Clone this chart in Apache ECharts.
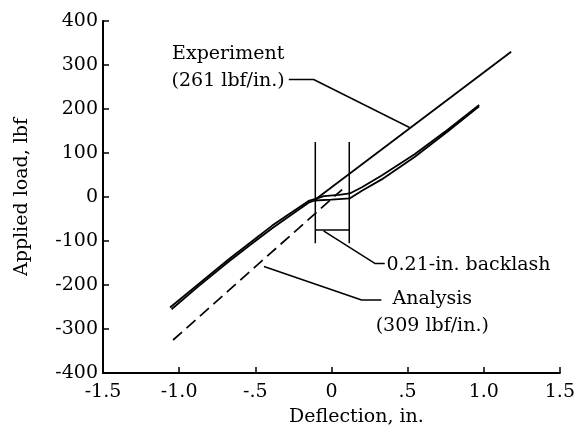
<!DOCTYPE html>
<html>
<head>
<meta charset="utf-8">
<script src="https://cdn.jsdelivr.net/npm/echarts@6/dist/echarts.min.js"></script>
<style>
  html, body { margin: 0; padding: 0; background: #fff; }
  #chart { width: 578px; height: 437px; }
</style>
</head>
<body>
<div id="chart"></div>
<script>
// tick labels
var xTickLabels = { '-1.5': '-1.5', '-1': '-1.0', '-0.5': '-.5', '0': '0', '0.5': '.5', '1': '1.0', '1.5': '1.5' };

// experiment hysteresis loop (two branches), deflection in., load lbf
var loopUpper = [[-1.06, -251], [-0.87, -197], [-0.672, -141], [-0.53, -103], [-0.389, -65], [-0.27, -37],
    [-0.15, -9], [-0.11, -5], [-0.05, 2], [0.05, 5], [0.12, 8], [0.2, 22], [0.33, 49], [0.546, 97],
    [0.763, 153], [0.97, 209]];
var loopLower = [[-1.05, -255], [-0.87, -202], [-0.672, -146], [-0.53, -108], [-0.389, -71], [-0.27, -42],
    [-0.15, -13], [-0.11, -8], [0.0, -6], [0.122, -3], [0.2, 14], [0.33, 40], [0.546, 91],
    [0.763, 149], [0.97, 206]];
// fitted experiment stiffness (261 lbf/in.)
var expLine = [[-0.11, -7], [1.18, 330]];
// analysis stiffness (309 lbf/in.)
var analysisLine = [[-1.04, -325], [0.07, 17]];
// backlash bracket
var backlashLeft = [[-0.106, -105], [-0.106, 125]];
var backlashRight = [[0.117, -105], [0.117, 125]];
var backlashBar = [[-0.106, -75], [0.117, -75]];
// leader lines
var expLeader = [[-0.28, 267], [-0.117, 267], [0.513, 158]];
var backlashLeader = [[-0.052, -77], [0.285, -151], [0.35, -151]];
var analysisLeader = [[-0.443, -158], [0.198, -234], [0.328, -234]];
// annotation anchors
var expText = [-0.678, 294];
var backlashText = [0.361, -154];
var analysisText = [0.662, -263];

var font = 'DejaVu Serif';
var myChart = echarts.init(document.getElementById('chart'));

function line(data, w, dash) {
    return {
        type: 'line',
        data: data,
        symbol: 'none',
        silent: true,
        animation: false,
        lineStyle: { color: '#000', width: w, type: dash || 'solid' }
    };
}

var option = {
    backgroundColor: '#fff',
    animation: false,
    grid: { left: 103, right: 15, top: 21, bottom: 64, containLabel: false },
    xAxis: {
        type: 'value',
        min: -1.5,
        max: 1.5,
        interval: 0.5,
        name: 'Deflection, in.',
        nameLocation: 'middle',
        nameGap: 44,
        nameTextStyle: { fontFamily: font, fontSize: 19, color: '#000', verticalAlign: 'middle', padding: [0, 0, 0, 50] },
        axisLine: { show: true, onZero: false, lineStyle: { color: '#000', width: 2 } },
        axisTick: { show: true, inside: true, length: 6, lineStyle: { color: '#000', width: 1.5 } },
        axisLabel: {
            margin: 10,
            fontFamily: font,
            fontSize: 19,
            color: '#000',
            formatter: function (v) { return xTickLabels[String(v)]; }
        },
        splitLine: { show: false }
    },
    yAxis: {
        type: 'value',
        min: -400,
        max: 400,
        interval: 100,
        name: 'Applied load, lbf',
        nameLocation: 'middle',
        nameGap: 81,
        nameRotate: 90,
        nameTextStyle: { fontFamily: font, fontSize: 19, color: '#000', verticalAlign: 'middle' },
        axisLine: { show: true, onZero: false, lineStyle: { color: '#000', width: 2 } },
        axisTick: { show: true, inside: true, length: 6, lineStyle: { color: '#000', width: 1.5 } },
        axisLabel: { margin: 5, fontFamily: font, fontSize: 19, color: '#000' },
        splitLine: { show: false }
    },
    series: [
        line(loopUpper, 1.8),
        line(loopLower, 1.8),
        line(expLine, 1.8),
        line(analysisLine, 1.7, [12, 6]),
        line(backlashLeft, 1.5),
        line(backlashRight, 1.5),
        line(backlashBar, 1.5),
        line(expLeader, 1.5),
        line(backlashLeader, 1.5),
        line(analysisLeader, 1.5)
    ]
};
myChart.setOption(option);

// place annotation texts at data positions
function textAt(pt, str, align) {
    var p = myChart.convertToPixel({ gridIndex: 0 }, pt);
    return {
        type: 'text',
        x: p[0],
        y: p[1],
        silent: true,
        style: {
            text: str,
            fontFamily: font,
            fontSize: 19,
            lineHeight: 27,
            fill: '#000',
            align: align,
            verticalAlign: 'middle'
        }
    };
}
myChart.setOption({
    graphic: [
        textAt(expText, 'Experiment\n(261 lbf/in.)', 'center'),
        textAt(backlashText, '0.21-in. backlash', 'left'),
        textAt(analysisText, 'Analysis\n(309 lbf/in.)', 'center')
    ]
});
window.addEventListener('resize', function () {
    myChart.resize();
});
</script>
</body>
</html>
